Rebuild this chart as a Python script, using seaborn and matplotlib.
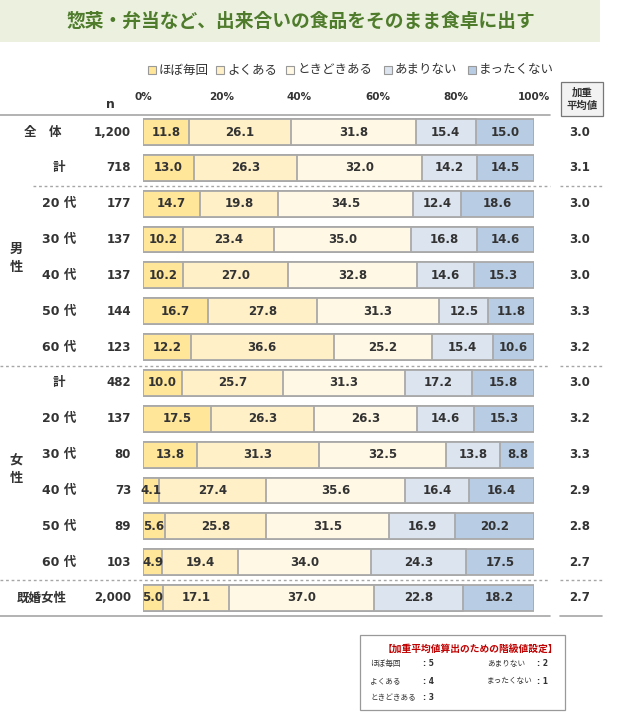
import matplotlib
matplotlib.use("Agg")
from matplotlib import pyplot as plt
from matplotlib.patches import Rectangle
import pandas as pd
import seaborn as sns

# categories / rows
categories = ["ほぼ毎回", "よくある", "ときどきある", "あまりない", "まったくない"]
colors = ["#FFE699", "#FFF0C8", "#FFF8E4", "#DCE4F0", "#B8CCE4"]

row_keys = ["all", "m_total", "m20", "m30", "m40", "m50", "m60",
            "f_total", "f20", "f30", "f40", "f50", "f60", "married"]
row_labels = ["全\u3000体", "計", "20 代", "30 代", "40 代", "50 代", "60 代",
              "計", "20 代", "30 代", "40 代", "50 代", "60 代", "既婚女性"]
n_values = ["1,200", "718", "177", "137", "137", "144", "123",
            "482", "137", "80", "73", "89", "103", "2,000"]

hobo = [11.8, 13.0, 14.7, 10.2, 10.2, 16.7, 12.2, 10.0, 17.5, 13.8, 4.1, 5.6, 4.9, 5.0]
yoku = [26.1, 26.3, 19.8, 23.4, 27.0, 27.8, 36.6, 25.7, 26.3, 31.3, 27.4, 25.8, 19.4, 17.1]
tokidoki = [31.8, 32.0, 34.5, 35.0, 32.8, 31.3, 25.2, 31.3, 26.3, 32.5, 35.6, 31.5, 34.0, 37.0]
amari = [15.4, 14.2, 12.4, 16.8, 14.6, 12.5, 15.4, 17.2, 14.6, 13.8, 16.4, 16.9, 24.3, 22.8]
mattaku = [15.0, 14.5, 18.6, 14.6, 15.3, 11.8, 10.6, 15.8, 15.3, 8.8, 16.4, 20.2, 17.5, 18.2]
weighted_avg = ["3.0", "3.1", "3.0", "3.0", "3.0", "3.3", "3.2",
                "3.0", "3.2", "3.3", "2.9", "2.8", "2.7", "2.7"]
percent_ticks = [0, 20, 40, 60, 80, 100]

sns.set_style("white")
plt.rcParams['font.family'] = ['Noto Sans CJK JP', 'DejaVu Sans']
NUM_FONT = ['DejaVu Sans', 'Noto Sans CJK JP']
TXT = "#333333"

series = [hobo, yoku, tokidoki, amari, mattaku]
df = pd.DataFrame({"row": row_keys})
cum = [0.0] * len(row_keys)
for cat, vals in zip(categories, series):
    cum = [c + v for c, v in zip(cum, vals)]
    df[cat] = vals
    df[cat + "_cum"] = cum

W, H = 622, 720
fig = plt.figure(figsize=(W / 100, H / 100), dpi=100)

# bar axes, placed in pixel space
top_px, bot_px = 114.1, 615.9
left_px, right_px = 143, 534
ax = fig.add_axes([left_px / W, 1 - bot_px / H, (right_px - left_px) / W, (bot_px - top_px) / H])

edge = "#A9A9A9"
# cumulative bars drawn from the longest down, so each segment shows its own colour
for cat, col in reversed(list(zip(categories, colors))):
    sns.barplot(data=df, x=cat + "_cum", y="row", order=row_keys, orient="h",
                color=col, width=0.72, edgecolor=edge, linewidth=1.3,
                saturation=1, ax=ax)

for i in range(len(row_keys)):
    start = 0.0
    for cat in categories:
        v = df.loc[i, cat]
        ax.text(start + v / 2, i, f"{v:.1f}", ha="center", va="center",
                fontsize=8.5, fontweight="bold", color=TXT, family=NUM_FONT)
        start += v

ax.set_xlim(0, 100)
ax.set_ylim(len(row_keys) - 0.5, -0.5)
ax.set_xlabel("")
ax.set_ylabel("")
ax.set_xticks([])
ax.set_yticks([])
for s in ax.spines.values():
    s.set_visible(False)
ax.patch.set_alpha(0)

# overlay axes in pixel coordinates for table text and lines
ov = fig.add_axes([0, 0, 1, 1], zorder=-1)
ov.set_xlim(0, W)
ov.set_ylim(H, 0)
ov.axis("off")

# title band
ov.add_patch(Rectangle((0, 0), 600, 42, facecolor="#EBF1DE", edgecolor="none"))
ov.text(301, 21, "惣菜・弁当など、出来合いの食品をそのまま食卓に出す", ha="center", va="center",
        fontsize=13.5, fontweight="bold", color="#4F7C2C")

# legend
leg_x = [148, 216, 286, 384, 468]
for lx, cat, col in zip(leg_x, categories, colors):
    ov.add_patch(Rectangle((lx, 66), 8, 8, facecolor=col, edgecolor="#999999", lw=0.8))
    ov.text(lx + 11, 70, cat, ha="left", va="center", fontsize=9, color=TXT)

# percent ticks
for p in percent_ticks:
    ov.text(left_px + (right_px - left_px) * p / 100, 97, f"{p}%", ha="center", va="center",
            fontsize=7.5, fontweight="bold", color=TXT, family=NUM_FONT)

ov.text(110, 105, "n", ha="center", va="center", fontsize=9, fontweight="bold", color=TXT,
        family=NUM_FONT)

# header box
ov.add_patch(Rectangle((561, 82), 42, 34, facecolor="#F2F2F2", edgecolor="#777777", lw=0.9))
ov.text(582, 99, "加重\n平均値", ha="center", va="center", fontsize=7.5, fontweight="bold",
        color=TXT, linespacing=1.4)

# rows
row_h = (bot_px - top_px) / len(row_keys)
for i, (lab, n, wa) in enumerate(zip(row_labels, n_values, weighted_avg)):
    y = top_px + row_h * (i + 0.5)
    if i == 0:
        lx = 43
    elif i == len(row_keys) - 1:
        lx = 42
    else:
        lx = 59
    ov.text(lx, y, lab, ha="center", va="center", fontsize=9, fontweight="bold", color=TXT,
            family=NUM_FONT if "代" in lab else None)
    ov.text(131, y, n, ha="right", va="center", fontsize=8.5, fontweight="bold", color=TXT,
            family=NUM_FONT)
    ov.text(580, y, wa, ha="center", va="center", fontsize=8.5, fontweight="bold", color=TXT,
            family=NUM_FONT)

ov.text(16, 258, "男\n性", ha="center", va="center", fontsize=9.5, fontweight="bold",
        color=TXT, linespacing=1.3)
ov.text(16, 469, "女\n性", ha="center", va="center", fontsize=9.5, fontweight="bold",
        color=TXT, linespacing=1.3)

# table lines
line_c = "#A6A6A6"
ov.plot([0, 550], [115, 115], color=line_c, lw=1.2)
ov.plot([0, 550], [615.5, 615.5], color=line_c, lw=1.2)
ov.plot([560, 602], [615.5, 615.5], color=line_c, lw=1.2)
for y0, x0 in [(186, 33), (366, 0), (580, 0)]:
    ov.plot([x0, 550], [y0, y0], color=line_c, lw=1, ls=(0, (2, 2)))
    ov.plot([560, 602], [y0, y0], color=line_c, lw=1, ls=(0, (2, 2)))

# note box
ov.add_patch(Rectangle((360, 635), 205, 75, facecolor="white", edgecolor="#999999", lw=0.9))
ov.text(470, 649, "【加重平均値算出のための階級値設定】", ha="center", va="center",
        fontsize=7, fontweight="bold", color="#C00000")
note_left = [("ほぼ毎回", ": 5"), ("よくある", ": 4"), ("ときどきある", ": 3")]
note_right = [("あまりない", ": 2"), ("まったくない", ": 1")]
for k, (a, b) in enumerate(note_left):
    ov.text(370, 664 + 17 * k, a, ha="left", va="center", fontsize=5.5, color=TXT)
    ov.text(423, 664 + 17 * k, b, ha="left", va="center", fontsize=5.5, fontweight="bold",
            color=TXT, family=NUM_FONT)
for k, (a, b) in enumerate(note_right):
    ov.text(487, 664 + 17 * k, a, ha="left", va="center", fontsize=5.5, color=TXT)
    ov.text(537, 664 + 17 * k, b, ha="left", va="center", fontsize=5.5, fontweight="bold",
            color=TXT, family=NUM_FONT)

fig.savefig("out.png", dpi=100)
